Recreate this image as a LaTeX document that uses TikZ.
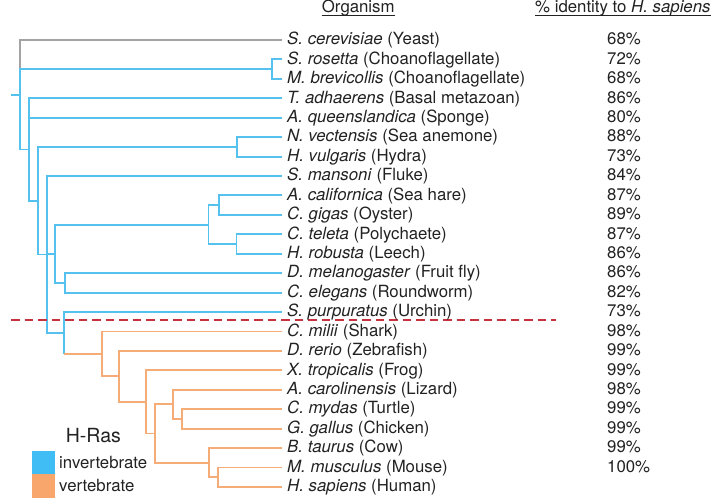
\documentclass[tikz,border=0pt]{standalone}
\usepackage{fontspec}
\setmainfont{TeX Gyre Heros}
\definecolor{treeblue}{HTML}{55C1EE}
\definecolor{treeorange}{HTML}{F5AC76}
\definecolor{treegray}{HTML}{A3A3A3}
\definecolor{dashred}{HTML}{C8323F}
\definecolor{legblue}{HTML}{3FBDF4}
\definecolor{legorange}{HTML}{F8A66B}
\definecolor{txt}{HTML}{222222}
\begin{document}
\begin{tikzpicture}[x=1pt,y=-1pt,
  bl/.style={line width=1.9pt,color=treeblue},
  orr/.style={line width=1.9pt,color=treeorange},
  gr/.style={line width=1.9pt,color=treegray},
  lab/.style={anchor=base west,inner sep=0pt,text=txt,font=\fontsize{16.8}{19}\selectfont},
  pct/.style={anchor=base west,inner sep=0pt,text=txt,font=\fontsize{16.8}{19}\selectfont},
  ul/.style={line width=0.9pt,color=txt},
  legsq/.style={minimum width=22.7pt,minimum height=23.3pt,inner sep=0pt,draw=none}]
\useasboundingbox (0,0) rectangle (712,499);
% leaf ends
\foreach \i in {0,...,23}{\coordinate (l\i) at (282,{40+19.43*\i});}
% internal nodes
\coordinate (root) at (20,94.74);
\coordinate (stub) at (11,94.74);
\coordinate (choano) at (272,69.145);
\coordinate (metazoa) at (29,149.49);
\coordinate (nhbil) at (38,200.68);
\coordinate (nh) at (237,146.865);
\coordinate (bilat) at (46.7,254.49);
\coordinate (proto) at (55,253.73);
\coordinate (lopho) at (208.5,224.585);
\coordinate (ac) at (219,205.155);
\coordinate (ch) at (236.5,244.015);
\coordinate (ecdy) at (65,282.875);
\coordinate (deut) at (64,332.97);
\coordinate (gnath) at (101.7,353.92);
\coordinate (deutv) at (deut |- gnath);
\coordinate (oste) at (119.3,376.38);
\coordinate (tetra) at (145.7,401.885);
\coordinate (amnio) at (155,433.46);
\coordinate (saur) at (172.7,404.31);
\coordinate (cg) at (181.7,418.885);
\coordinate (mamm) at (209,462.6);
\coordinate (mh) at (218.3,477.175);
% gray
\draw[gr] (l0) -| (root);
% blue
\draw[bl] (choano) -| (root);
\draw[bl] (metazoa) -| (root);
\draw[bl] (stub) -- (root);
\draw[bl] (l1) -| (choano);
\draw[bl] (l2) -| (choano);
\draw[bl] (l3) -| (metazoa);
\draw[bl] (l4) -| (metazoa);
\draw[bl] (nhbil) -| (metazoa);
\draw[bl] (nh) -| (nhbil);
\draw[bl] (bilat) -| (nhbil);
\draw[bl] (l5) -| (nh);
\draw[bl] (l6) -| (nh);
\draw[bl] (l7) -| (bilat);
\draw[bl] (proto) -| (bilat);
\draw[bl] (deut) -| (bilat);
\draw[bl] (lopho) -| (proto);
\draw[bl] (ecdy) -| (proto);
\draw[bl] (ac) -| (lopho);
\draw[bl] (ch) -| (lopho);
\draw[bl] (l8) -| (ac);
\draw[bl] (l9) -| (ac);
\draw[bl] (l10) -| (ch);
\draw[bl] (l11) -| (ch);
\draw[bl] (l12) -| (ecdy);
\draw[bl] (l13) -| (ecdy);
\draw[bl] (l14) -| (deut);
\draw[bl] (deut) -- (deutv);
% orange
\draw[orr] (gnath) -- (deutv);
\draw[orr] (l15) -| (gnath);
\draw[orr] (oste) -| (gnath);
\draw[orr] (l16) -| (oste);
\draw[orr] (tetra) -| (oste);
\draw[orr] (l17) -| (tetra);
\draw[orr] (amnio) -| (tetra);
\draw[orr] (saur) -| (amnio);
\draw[orr] (mamm) -| (amnio);
\draw[orr] (l18) -| (saur);
\draw[orr] (cg) -| (saur);
\draw[orr] (l19) -| (cg);
\draw[orr] (l20) -| (cg);
\draw[orr] (l21) -| (mamm);
\draw[orr] (mh) -| (mamm);
\draw[orr] (l22) -| (mh);
\draw[orr] (l23) -| (mh);
% red dashed divider
\coordinate (dashL) at (11,320);
\coordinate (dashR) at (556,320);
\draw[dashred,line width=1.5pt,dash pattern=on 8.5pt off 5pt] (dashL) -- (dashR);
% headers
\node[lab] (hOrg) at (321.7,12.7) {Organism};
\node[lab] (hPct) at (535,12.7) {\% identity to \textit{H. sapiens}};
\draw[ul] ([yshift=-2.6pt]hOrg.base west) -- ([yshift=-2.6pt]hOrg.base east);
\draw[ul] ([yshift=-2.6pt]hPct.base west) -- ([yshift=-2.6pt]hPct.base east);
% labels
\foreach \i/\t in {0/{\textit{S. cerevisiae} (Yeast)},
 1/{\textit{S. rosetta} (Choanoflagellate)},
 2/{\textit{M. brevicollis} (Choanoflagellate)},
 3/{\textit{T. adhaerens} (Basal metazoan)},
 4/{\textit{A. queenslandica} (Sponge)},
 5/{\textit{N. vectensis} (Sea anemone)},
 6/{\textit{H. vulgaris} (Hydra)},
 7/{\textit{S. mansoni} (Fluke)},
 8/{\textit{A. californica} (Sea hare)},
 9/{\textit{C. gigas} (Oyster)},
 10/{\textit{C. teleta} (Polychaete)},
 11/{\textit{H. robusta} (Leech)},
 12/{\textit{D. melanogaster} (Fruit fly)},
 13/{\textit{C. elegans} (Roundworm)},
 14/{\textit{S. purpuratus} (Urchin)},
 15/{\textit{C. milii} (Shark)},
 16/{\textit{D. rerio} (Zebrafish)},
 17/{\textit{X. tropicalis} (Frog)},
 18/{\textit{A. carolinensis} (Lizard)},
 19/{\textit{C. mydas} (Turtle)},
 20/{\textit{G. gallus} (Chicken)},
 21/{\textit{B. taurus} (Cow)},
 22/{\textit{M. musculus} (Mouse)},
 23/{\textit{H. sapiens} (Human)}}
 {\node[lab] (t\i) at (287,{44.8+19.43*\i}) {\t};}
% percentages
\foreach \i/\p in {0/68,1/72,2/68,3/86,4/80,5/88,6/73,7/84,8/87,9/89,10/87,11/86,12/86,13/82,14/73,15/98,16/99,17/99,18/98,19/99,20/99,21/99,22/100}
 {\node[pct] (p\i) at (607,{44.8+19.43*\i}) {\p\%};}
% legend
\node[anchor=base west,inner sep=0pt,text=txt,font=\fontsize{19.5}{22}\selectfont] (hras) at (65.7,442.7) {H-Ras};
\node[legsq,fill=legblue] (sqB) at (43.65,462.65) {};
\node[legsq,fill=legorange] (sqO) at (43.65,485.95) {};
\node[lab] (linv) at (59,468.2) {invertebrate};
\node[lab] (lver) at (59,491.7) {vertebrate};
\end{tikzpicture}
\end{document}
